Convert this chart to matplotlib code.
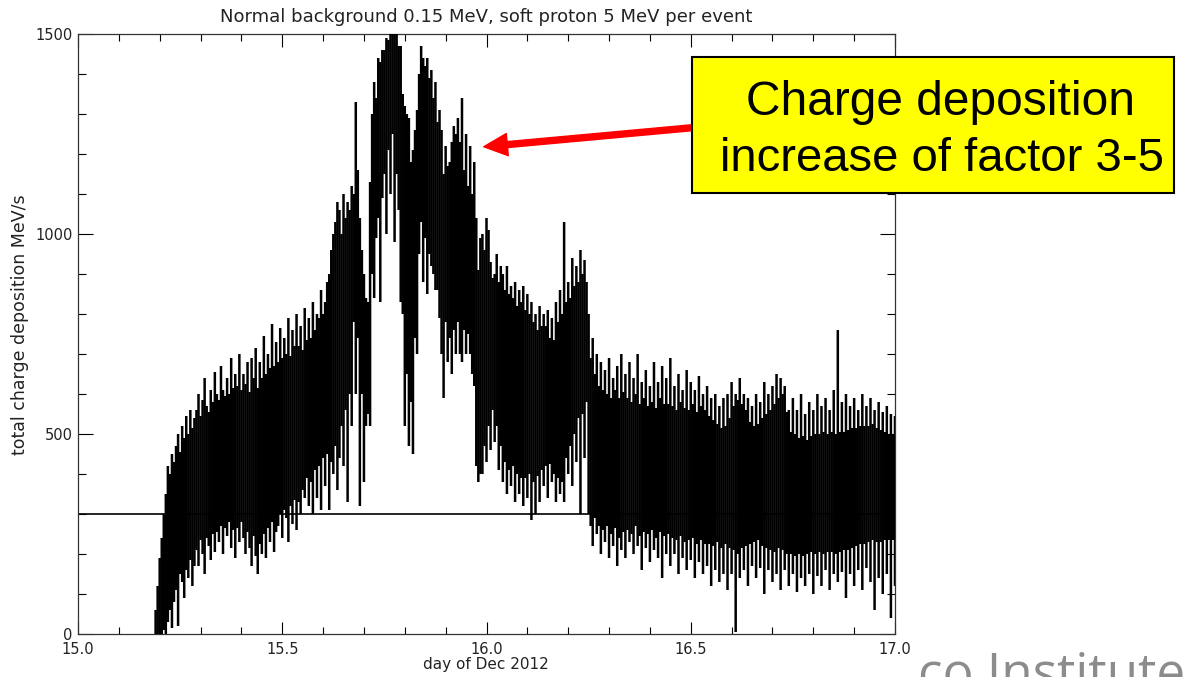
import numpy as np
import matplotlib
matplotlib.use('Agg')
import matplotlib.pyplot as plt
from matplotlib.ticker import MultipleLocator, FormatStrFormatter
from matplotlib.patches import Rectangle, FancyArrowPatch

# trace: local maximum and minimum every 0.005 day,
# from 15.190 to 17.000 (one row = 0.05 day)
trace_high = [
    60, 120, 190, 240, 300, 350, 420, 400, 450, 430,
    470, 500, 455, 520, 490, 545, 500, 560, 515, 540,
    560, 600, 545, 585, 640, 570, 555, 610, 580, 655,
    600, 585, 670, 610, 595, 640, 600, 690, 615, 650,
    620, 700, 610, 650, 625, 680, 605, 690, 640, 715,
    615, 680, 640, 745, 650, 700, 665, 775, 670, 730,
    680, 765, 690, 740, 700, 790, 695, 760, 720, 800,
    720, 770, 710, 815, 735, 790, 740, 830, 760, 800,
    790, 860, 800, 830, 880, 900, 960, 1000, 1030, 1080,
    1060, 1000, 1100, 1040, 1080, 1060, 1120, 1100, 1330, 1160,
    1040, 960, 900, 840, 830, 1130, 1300, 1380, 1340, 1440,
    1430, 1460, 1460, 1490, 1485, 1510, 1505, 1510, 1510, 1470,
    1470, 1350, 1320, 1300, 1290, 1180, 1210, 1260, 1310, 1400,
    1470, 1440, 1420, 1440, 1390, 1410, 1340, 1380, 1280, 1310,
    1260, 1150, 1220, 1170, 1180, 1230, 1270, 1250, 1290, 1230,
    1340, 1160, 1250, 1120, 1220, 1100, 1180, 1040, 910, 990,
    1000, 960, 1040, 1010, 930, 890, 900, 950, 880, 920,
    900, 860, 920, 850, 870, 840, 880, 820, 860, 830,
    870, 810, 850, 800, 830, 780, 800, 760, 820, 770,
    800, 770, 810, 740, 790, 735, 830, 780, 860, 800,
    1030, 830, 880, 840, 940, 870, 920, 880, 960, 900,
    935, 880, 800, 690, 740, 650, 700, 620, 680, 610,
    660, 600, 690, 590, 640, 610, 670, 590, 700, 605,
    650, 590, 680, 580, 640, 600, 700, 575, 630, 590,
    660, 570, 620, 580, 680, 565, 630, 590, 670, 575,
    640, 575, 690, 570, 620, 560, 650, 580, 610, 565,
    660, 560, 630, 575, 610, 555, 645, 570, 600, 560,
    620, 545, 590, 535, 600, 525, 570, 515, 590, 520,
    600, 540, 630, 570, 600, 585, 640, 575, 600, 560,
    590, 530, 570, 520, 600, 525, 580, 540, 630, 550,
    600, 560, 620, 575, 650, 590, 640, 600, 620, 555,
    560, 505, 590, 500, 560, 490, 600, 495, 550, 485,
    580, 495, 560, 500, 600, 500, 570, 505, 590, 500,
    560, 505, 610, 500, 760, 505, 580, 505, 600, 510,
    570, 515, 590, 515, 560, 520, 600, 520, 570, 520,
    590, 525, 560, 515, 580, 510, 555, 505, 570, 500,
    550, 500, 545]
trace_low = [
    0, 0, 0, 0, 10, 0, 30, 60, 15, 80,
    110, 20, 150, 130, 90, 160, 140, 185, 120, 170,
    210, 170, 235, 200, 150, 240, 220, 185, 250, 205,
    255, 230, 270, 200, 265, 245, 280, 215, 260, 190,
    265, 230, 280, 240, 200, 255, 215, 170, 245, 195,
    150, 225, 200, 250, 190, 265, 230, 280, 205, 255,
    270, 300, 240, 310, 290, 230, 320, 275, 335, 260,
    330, 300, 360, 340, 390, 320, 380, 300, 410, 340,
    420, 310, 440, 370, 450, 310, 430, 400, 470, 360,
    440, 520, 420, 560, 330, 600, 520, 780, 600, 740,
    320, 600, 380, 520, 550, 520, 900, 840, 990, 1040,
    830, 1090, 1150, 1000, 1210, 1100, 1250, 980, 1150, 1060,
    830, 800, 520, 650, 470, 580, 450, 740, 700, 950,
    1030, 880, 990, 850, 950, 920, 900, 860, 860, 790,
    700, 590, 780, 680, 740, 650, 760, 700, 780, 700,
    680, 760, 700, 750, 700, 650, 620, 420, 380, 400,
    400, 470, 430, 520, 460, 560, 480, 520, 410, 470,
    380, 430, 350, 410, 370, 420, 330, 400, 350, 390,
    320, 390, 340, 400, 285, 380, 300, 395, 330, 410,
    370, 420, 340, 425, 380, 400, 330, 390, 350, 380,
    330, 440, 400, 470, 370, 500, 430, 540, 300, 550,
    440, 580, 300, 270, 220, 290, 250, 270, 200, 260,
    230, 270, 190, 250, 220, 265, 170, 240, 210, 255,
    190, 260, 230, 250, 200, 270, 220, 245, 160, 255,
    215, 250, 180, 260, 210, 240, 190, 255, 140, 245,
    200, 250, 170, 240, 200, 235, 150, 245, 190, 230,
    160, 235, 185, 240, 140, 225, 180, 235, 150, 225,
    170, 225, 120, 220, 160, 230, 130, 215, 150, 225,
    110, 215, 150, 210, 5, 200, 140, 215, 160, 220,
    120, 225, 170, 230, 140, 235, 165, 220, 100, 215,
    160, 210, 130, 205, 150, 215, 110, 210, 160, 200,
    120, 200, 150, 195, 105, 200, 140, 195, 120, 200,
    150, 205, 100, 200, 145, 205, 120, 200, 160, 205,
    110, 205, 150, 200, 130, 205, 155, 210, 90, 210,
    150, 215, 120, 220, 160, 225, 110, 225, 165, 230,
    130, 235, 60, 230, 140, 230, 100, 235, 150, 235,
    40, 235, 120]

normal_level = 300

trace_day = 15.19 + 0.005 * np.arange(len(trace_high))

fig = plt.figure(figsize=(11.84, 6.77), dpi=100)
ax = fig.add_axes([78 / 1184, 43 / 677, 817 / 1184, 600 / 677])

ax.axhline(normal_level, color='black', lw=1.2, zorder=2)
ax.vlines(trace_day, trace_low, trace_high, color='black', lw=1.8,
          snap=False, zorder=3)

ax.set_xlim(15.0, 17.0)
ax.set_ylim(0, 1500)
ax.xaxis.set_major_locator(MultipleLocator(0.5))
ax.xaxis.set_minor_locator(MultipleLocator(0.1))
ax.yaxis.set_major_locator(MultipleLocator(500))
ax.yaxis.set_minor_locator(MultipleLocator(100))
ax.xaxis.set_major_formatter(FormatStrFormatter('%.1f'))
ax.tick_params(axis='x', which='major', direction='in', length=9, width=0.8,
               top=True, pad=6, labelsize=10.5, labelcolor='#222222')
ax.tick_params(axis='x', which='minor', direction='in', length=5, width=0.8, top=True)
ax.tick_params(axis='y', which='major', direction='in', length=11, width=0.8,
               right=True, pad=4, labelsize=10.5, labelcolor='#222222')
ax.tick_params(axis='y', which='minor', direction='in', length=6, width=0.8, right=True)
for s in ax.spines.values():
    s.set_linewidth(0.9)
    s.set_color('#333333')

fig.text(486 / 1184, 1 - 17 / 677, 'Normal background 0.15 MeV, soft proton 5 MeV per event',
         ha='center', va='center', fontsize=13, color='#222222')
fig.text(486 / 1184, 1 - 665 / 677, 'day of Dec 2012',
         ha='center', va='center', fontsize=11, color='#222222')
fig.text(20 / 1184, 1 - 325 / 677, 'total charge deposition MeV/s', rotation=90,
         ha='center', va='center', fontsize=12.5, color='#222222')

# annotation
arrow = FancyArrowPatch((700 / 1184, 1 - 127 / 677), (481 / 1184, 1 - 147 / 677),
                        transform=fig.transFigure,
                        arrowstyle='simple,head_length=17,head_width=16,tail_width=4.3',
                        mutation_scale=1, color='#ff0000', zorder=5)
fig.add_artist(arrow)
box = Rectangle((692 / 1184, 1 - 193 / 677), 482 / 1184, 136 / 677,
                transform=fig.transFigure, facecolor='#ffff00',
                edgecolor='black', lw=1.5, zorder=6)
fig.add_artist(box)
fig.text(940 / 1184, 1 - 115 / 677, 'Charge deposition', ha='center', va='baseline',
         fontsize=34.5, family='Liberation Sans', zorder=7)
fig.text(942 / 1184, 1 - 171 / 677, 'increase of factor 3-5', ha='center', va='baseline',
         fontsize=34, family='Liberation Sans', zorder=7)

fig.text(918 / 1184, 1 - 690 / 677, 'co Institute', ha='left', va='baseline',
         fontsize=37, family='Open Sans', color='#8c8c8c')

fig.savefig('out.png', dpi=100)
